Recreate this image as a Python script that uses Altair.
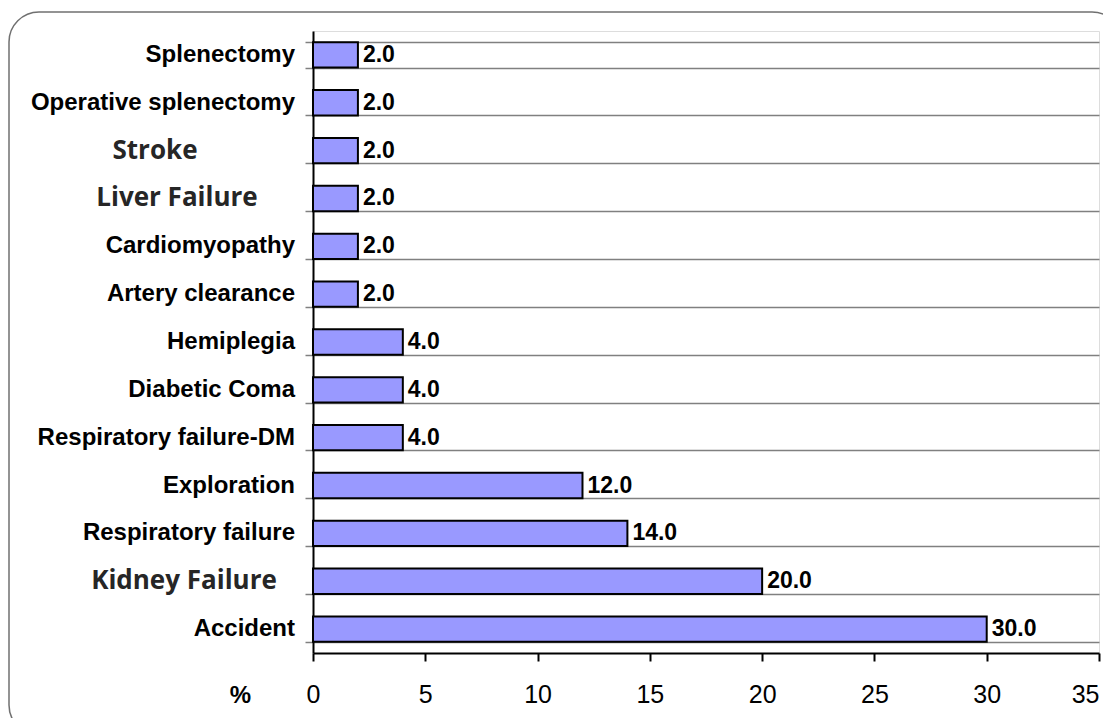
import altair as alt
import pandas as pd

causes = ["Splenectomy", "Operative splenectomy", "Stroke", "Liver Failure",
          "Cardiomyopathy", "Artery clearance", "Hemiplegia", "Diabetic Coma",
          "Respiratory failure-DM", "Exploration", "Respiratory failure",
          "Kidney Failure", "Accident"]
values = [2.0, 2.0, 2.0, 2.0, 2.0, 2.0, 4.0, 4.0, 4.0, 12.0, 14.0, 20.0, 30.0]
x_ticks = [0, 5, 10, 15, 20, 25, 30, 35]

df = pd.DataFrame({"cause": causes, "value": values})

special = "indexof(['Stroke','Liver Failure','Kidney Failure'], datum.cause) >= 0"

yenc = alt.Y("cause:N", sort=causes,
             scale=alt.Scale(paddingInner=0.47, paddingOuter=0.235),
             axis=alt.Axis(labels=False, title=None, tickBand="extent",
                           ticks=True, grid=True, gridColor="#808080", gridWidth=1.5,
                           tickColor="#808080", tickWidth=1.5, tickSize=8,
                           domainColor="black", domainWidth=2))

xenc = alt.X("value:Q", scale=alt.Scale(domain=[0, 35], nice=False),
             axis=alt.Axis(values=x_ticks, tickSize=8, tickColor="black", tickWidth=2,
                           domainColor="black", domainWidth=2, grid=False,
                           labelFont="Liberation Sans", labelFontSize=25,
                           labelColor="black", labelPadding=21, labelFlush=False,
                           labelAlign={"condition": {"test": "datum.value === 35", "value": "right"},
                                       "value": "center"},
                           title="%", titleX=-73, titleY=42, titleFontSize=24,
                           titleFont="Liberation Sans", titleFontWeight="bold",
                           titleColor="black", titleAlign="center",
                           titleBaseline="middle", titleAngle=0))

bars = alt.Chart(df).mark_bar(fill="#9999FF", stroke="black", strokeWidth=2).encode(
    x=xenc, y=yenc,
)

value_labels = alt.Chart(df).mark_text(
    align="left", baseline="middle", dx=5, font="Liberation Sans",
    fontSize=23, fontWeight="bold", color="black"
).encode(
    x=xenc, y=yenc,
    text=alt.Text("value:Q", format=".1f"),
)

cat_labels = alt.Chart(df).mark_text(
    baseline="middle", fontWeight="bold",
    align=alt.ExprRef(expr=f"{special} ? 'center' : 'right'"),
    dx=alt.ExprRef(expr="datum.cause === 'Stroke' ? -140 : datum.cause === 'Liver Failure' ? -118 : datum.cause === 'Kidney Failure' ? -111 : 0"),
    font=alt.ExprRef(expr=f"{special} ? 'Open Sans' : 'Liberation Sans'"),
    fontSize=alt.ExprRef(expr=f"{special} ? 26 : 24"),
    color=alt.ExprRef(expr=f"{special} ? '#262626' : 'black'"),
).encode(
    x=alt.value(-18),
    y=yenc,
    text="cause:N",
)

border = alt.Chart(alt.Data(values=[{"k": 1}])).mark_rect(
    cornerRadius=30, fill="transparent", stroke="#707070", strokeWidth=1.5
).encode(
    x=alt.value(-304), x2=alt.value(809), y=alt.value(-19), y2=alt.value(704)
)

chart = alt.layer(border, bars, value_labels, cat_labels).properties(
    width=786, height=622,
    autosize=alt.AutoSizeParams(type="none"),
    padding={"left": 305, "top": 23, "right": 4, "bottom": 65},
).configure_view(stroke="#808080", strokeWidth=2).configure(background="white")

chart.save("out.html", embed_options={"renderer": "svg", "actions": False})
